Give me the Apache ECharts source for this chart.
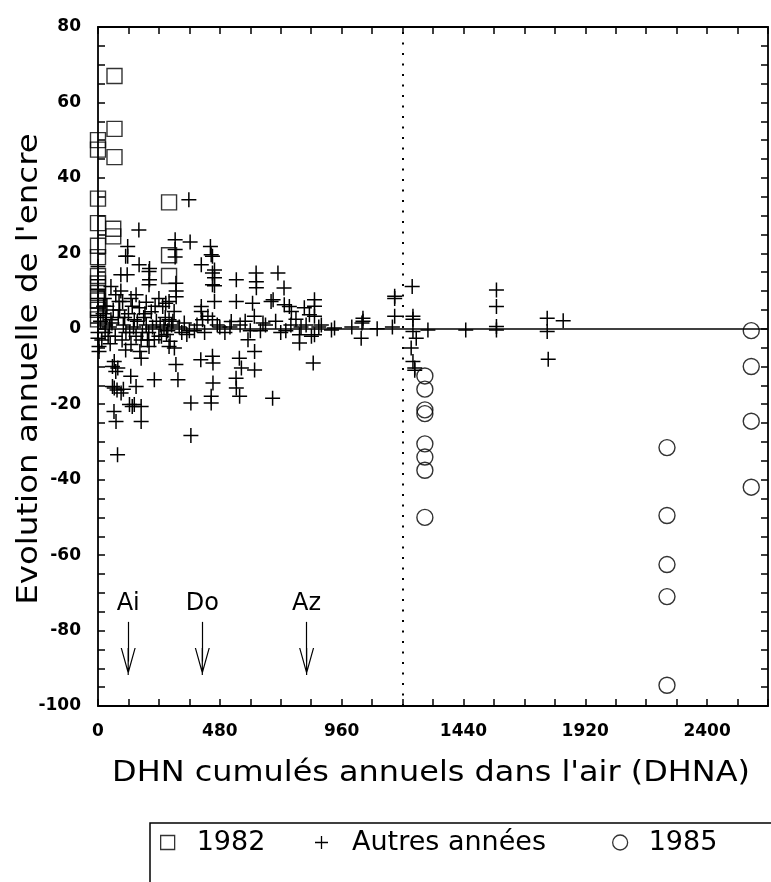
<!DOCTYPE html>
<html><head><meta charset="utf-8">
<script src="https://cdn.jsdelivr.net/npm/echarts@6/dist/echarts.min.js"></script>
<style>html,body{margin:0;padding:0;background:#fff}#c{width:771px;height:882px}</style>
</head><body><div id="c"></div>
<script>
// ---- data ----
const xTickLabels = [0, 480, 960, 1440, 1920, 2400];
const yTickLabels = [-100, -80, -60, -40, -20, 0, 20, 40, 60, 80];
const seriesNames = ['1982', 'Autres années', '1985'];

const sq1982X = [0,0,65,65,65,0,0,0,60,60,0,0,0,0,0,0,0,280,280,280];
const sq1982Y = [50,47.5,67,53,45.5,34.5,28,22,26.5,24.5,19,14,12,9.5,7.5,5,2.5,33.5,19.5,14];

const c1985X = [1288,1288,1288,1288,1288,1288,1288,1288,2242,2242,2242,2242,2242,2574,2574,2574,2574];
const c1985Y = [-12.5,-16,-21.5,-22.5,-30.5,-34,-37.5,-50,-31.5,-49.5,-62.5,-71,-94.5,-0.5,-10,-24.5,-42];

const otherX = [0,0,0,0,0,0,0,0,0,4,4,20,25,30,35,40,51,51,57,64,70,64,57,75,100,91,63,71,77,78,
 60,70,80,83,90,90,97,100,109,109,110,115,117,117,120,
 129,130,130,135,140,143,143,124,150,150,150,161,162,163,165,170,170,170,170,
 180,190,190,200,201,201,201,203,203,210,222,222,230,240,240,
 255,260,267,270,280,280,280,284,290,300,301,304,304,304,307,308,308,307,315,
 330,358,360,363,366,366,390,405,407,407,407,412,420,433,
 443,446,451,451,459,459,451,459,459,451,451,453,453,446,446,480,500,
 525,545,545,544,545,558,560,565,557,580,591,
 609,616,617,617,623,624,624,640,660,682,688,690,700,709,720,
 733,734,754,760,762,780,794,794,813,820,833,841,848,853,853,853,853,870,920,932,1000,
 1037,1044,1044,1040,1100,1160,
 1169,1169,1169,1238,1241,1241,1241,1254,1234,1241,1248,1248,
 1300,1449,1570,1570,1570,1570,1770,1770,1774,1833,
 10,15,22,28,33,45,48,55,68,85,95,105,125,135,155,175,185,195,215,225,245,250,265,275,295,
 320,340,350,380,470,520,600,650,740,800,880];
const otherY = [16.5,13,10.5,8,5.5,3.5,1.5,-1,-2.5,-4.7,-6,4,8,1,6,-2,11.2,2.4,-10,-8.7,-11.3,-15.7,-15.3,-16.2,-16,-17,-21.9,-24.6,-33.4,-10.4,
 5,9,3,7.2,14.3,10,7.2,1,19.2,-5.6,-1,14.3,21.8,19.2,4,
 -12.6,-4.2,8,-20.6,0.5,2.4,-20.1,-20.1,-15.3,-2,9,26.2,17,5.6,-6,-3,-7.8,-20.6,-24.6,
 3,1,7,-1,15.2,11.7,-4.7,16,13,4.5,-2.9,-13.5,2,-2,8,
 5.9,0.5,6.8,-1.5,7.2,2.4,-4.7,-3.3,1,4.6,-5.1,23.6,21,19,12.1,10,8.5,-9.5,-13.5,
 -1,34.2,-0.5,23,-19.7,-28.3,1,-8.2,17,5.9,4.6,2.4,-1,3.3,
 21.8,19.6,19.2,14.8,15.6,13.5,11.7,11.4,7.2,2.4,-7.3,-9.1,-14.4,-17.9,-19.7,0.5,-1,
 1.9,13,7.2,-13.1,-15.7,-17.9,1,-10.4,-7.8,2,-2.9,
 6.8,3.3,-6,-10.9,14.8,12.5,10.9,-0.5,1,7.2,-18.4,7.7,2,14.8,-1,
 10.8,6.4,5.9,1,4.6,2.5,-3.8,-1.6,5.6,1,3.7,-2,-9.1,7.7,6,3.3,-1.6,0.5,-0.3,0.2,0.5,
 -2.5,2.8,2,1.5,0,0.5,
 8.6,8,3.3,11.2,3.3,2.5,-0.7,-2.5,-5.1,-8.7,-10.4,-11,
 -0.3,-0.3,10.3,5.9,0.6,-0.3,2.8,-0.7,-8.1,2.1,
 2,-3,6,-1,3,0.5,-4,1.5,-2,5,-3,3,-1,6,2,-1,4,-3,0.5,6,1,-2,3,-0.5,2,
 0.5,1.5,-1.5,-0.5,1,0.5,-0.5,1.5,-0.5,0.5,1];

const annotNames = ['Ai', 'Do', 'Az'];
const annotX = [119, 411, 822];
const annotTopY = -77.7;
const annotEndY = -88.2;
const zeroLineY = 0;
const dottedLineX = 1200;

const titleX = "DHN cumulés annuels dans l'air (DHNA)";
const titleY = "Evolution annuelle de l'encre";

// ---- build ----
const zip = (xs, ys) => xs.map((x, i) => [x, ys[i]]);
const FONT = '"DejaVu Sans", sans-serif';
const plusPath = 'path://M0,5.4H5.4V0H6.6V5.4H12V6.6H6.6V12H5.4V6.6H0Z';
const arrowPath = 'path://M7.5,0L15,27L13.8,27L7.5,4.5L1.2,27L0,27ZM6.9,0H8.1V27H6.9Z';

const axisCommon = {
  type: 'value',
  axisLine: { show: true, onZero: false, lineStyle: { color: '#000', width: 1.8 } },
  axisTick: { show: true, inside: true, length: 7, lineStyle: { color: '#000', width: 1.5 } },
  splitLine: { show: false },
  minorTick: { show: false }
};

const legendText = { fontSize: 27, fontFamily: FONT, color: '#000', padding: [0, 0, 0, 17] };

const option = {
  animation: false,
  backgroundColor: '#fff',
  grid: { left: 98, right: 3, top: 27, bottom: 176, containLabel: false },
  xAxis: [
    Object.assign({}, axisCommon, {
      position: 'bottom', min: 0, max: 2640, interval: 120,
      axisLabel: { margin: 17, color: '#000', fontSize: 17, fontWeight: 'bold', fontFamily: FONT,
        formatter: v => xTickLabels.includes(v) ? String(v) : '' }
    }),
    Object.assign({}, axisCommon, {
      position: 'top', min: 0, max: 2640, interval: 120, axisLabel: { show: false }
    })
  ],
  yAxis: [
    Object.assign({}, axisCommon, {
      position: 'left', min: -100, max: 80, interval: 5,
      axisLabel: { margin: 17, color: '#000', fontSize: 17, fontWeight: 'bold', fontFamily: FONT,
        formatter: v => yTickLabels.includes(v) ? String(v) : '' }
    }),
    Object.assign({}, axisCommon, {
      position: 'right', min: -100, max: 80, interval: 5, axisLabel: { show: false }
    })
  ],
  legend: [
    { data: [seriesNames[0]], left: 160, top: 829, padding: 0, itemWidth: 14, itemHeight: 14, selectedMode: false,
      itemStyle: { color: 'transparent', borderColor: '#000', borderWidth: 1.3 }, textStyle: legendText },
    { data: [seriesNames[1]], left: 315, top: 829, padding: 0, itemWidth: 13, itemHeight: 13, selectedMode: false,
      itemStyle: { color: '#000', borderWidth: 0 }, textStyle: Object.assign({}, legendText, { padding: [0, 0, 0, 19] }) },
    { data: [seriesNames[2]], left: 612, top: 829, padding: 0, itemWidth: 15, itemHeight: 15, selectedMode: false,
      itemStyle: { color: 'transparent', borderColor: '#000', borderWidth: 1.3 }, textStyle: Object.assign({}, legendText, { padding: [0, 0, 0, 16] }) }
  ],
  graphic: [
    { type: 'rect', silent: true, shape: { x: 150, y: 823, width: 700, height: 100 },
      style: { fill: 'none', stroke: '#000', lineWidth: 1.5 } },
    { type: 'text', silent: true, x: 431, y: 774, scaleX: 1.14,
      style: { text: titleX, font: '28px ' + FONT, fill: '#000', align: 'center', verticalAlign: 'middle', textAlign: 'center', textVerticalAlign: 'middle' } },
    { type: 'text', silent: true, x: 30, y: 369, rotation: Math.PI / 2, scaleX: 1.16,
      style: { text: titleY, font: '28px ' + FONT, fill: '#000', align: 'center', verticalAlign: 'middle', textAlign: 'center', textVerticalAlign: 'middle' } }
  ],
  series: [
    { name: seriesNames[1], type: 'scatter', clip: false, symbol: plusPath, symbolSize: 15,
      itemStyle: { color: '#000', opacity: 1 }, data: zip(otherX, otherY), z: 3 },
    { name: seriesNames[0], type: 'scatter', clip: false, symbol: 'rect', symbolSize: 15,
      itemStyle: { color: 'transparent', borderColor: '#000', borderWidth: 1.4 }, data: zip(sq1982X, sq1982Y), z: 4 },
    { name: seriesNames[2], type: 'scatter', clip: false, symbol: 'circle', symbolSize: 16,
      itemStyle: { color: 'transparent', borderColor: '#000', borderWidth: 1.4 }, data: zip(c1985X, c1985Y), z: 4 },
    { name: 'refs', type: 'scatter', data: [],
      markLine: { silent: true, symbol: ['none', 'none'], label: { show: false }, animation: false,
        data: [
          { yAxis: zeroLineY, lineStyle: { color: '#000', type: 'solid', width: 1.6 } },
          { xAxis: dottedLineX, lineStyle: { color: '#000', type: [2, 8.5], width: 2 } }
        ] } },
    { name: 'arrows', type: 'scatter', data: [],
      markLine: { silent: true, symbol: ['none', arrowPath], symbolSize: 27, symbolKeepAspect: true, animation: false,
        lineStyle: { color: '#000', type: 'solid', width: 1.2 },
        itemStyle: { color: '#000' },
        label: { show: true, position: 'start', formatter: '{b}', color: '#000', fontSize: 24, fontFamily: FONT, distance: 6 },
        data: annotNames.map((n, i) => [
          { name: n, coord: [annotX[i], annotTopY] },
          { coord: [annotX[i], annotEndY], symbolKeepAspect: true }
        ]) } }
  ]
};

const chart = echarts.init(document.getElementById('c'), null, { renderer: 'canvas' });
chart.setOption(option);
</script>
</body></html>
